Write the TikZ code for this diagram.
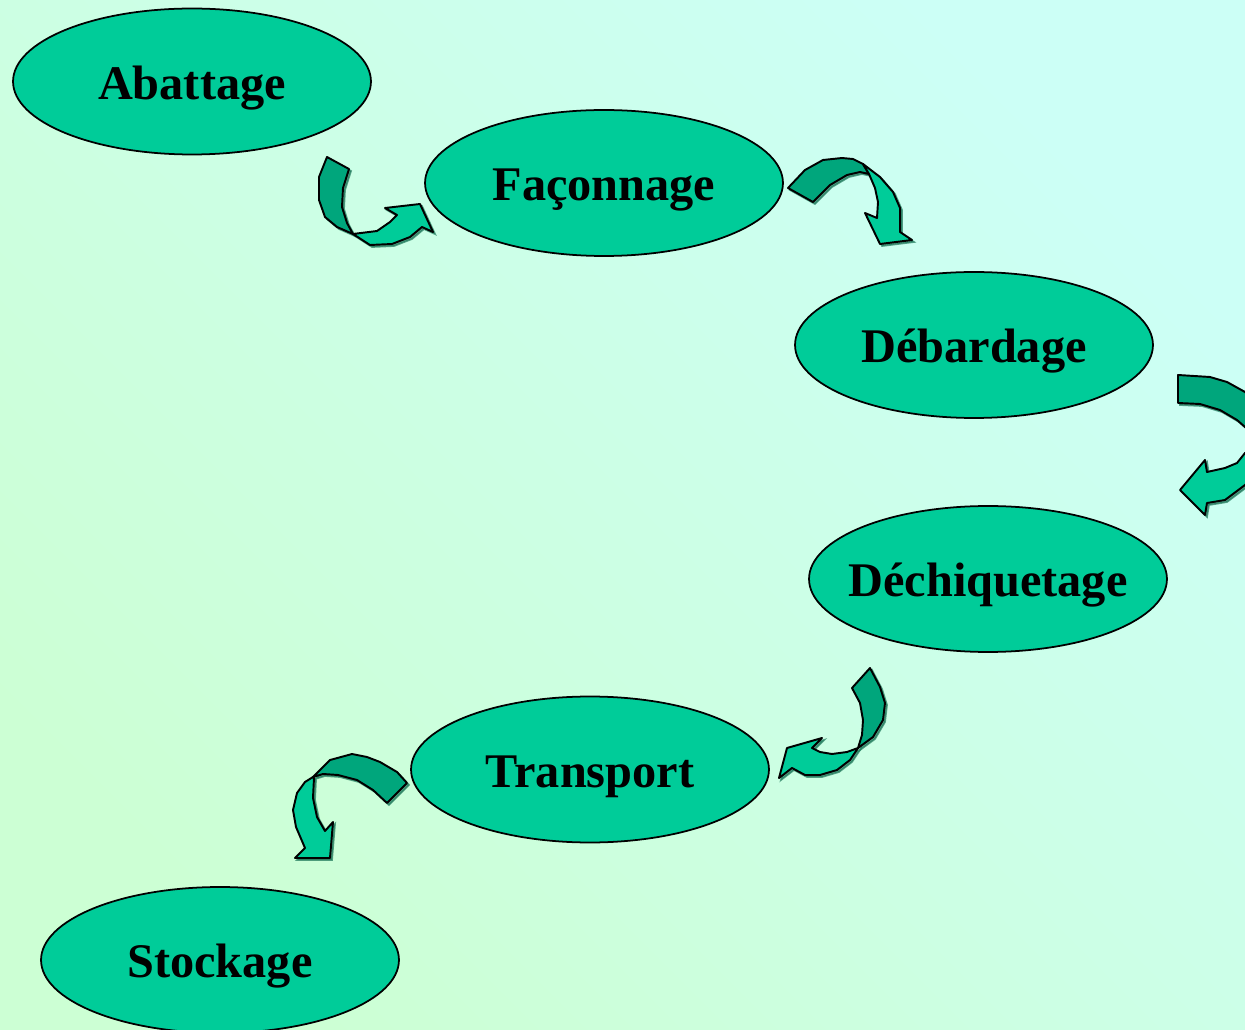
\documentclass[tikz,border=0pt]{standalone}
\usepackage{fontspec}
\setmainfont{Liberation Serif}
\usetikzlibrary{shapes.geometric}
\definecolor{bgA}{RGB}{204,255,246}
\definecolor{bgB}{RGB}{204,255,212}
\definecolor{stagefill}{RGB}{0,204,153}
\definecolor{bandback}{RGB}{0,166,124}
\definecolor{bandshadow}{RGB}{30,120,90}
\newcommand{\stagetext}[1]{\makebox[0pt]{\raisebox{-0.36cm}[0pt][0pt]{#1}}}
\tikzset{
  stage/.style={ellipse, draw=black, line width=1pt, fill=stagefill,
    minimum width=7.16cm, minimum height=2.92cm, inner sep=0pt,
    font=\fontsize{27.5}{30}\selectfont\bfseries},
  backband/.style={fill=bandback, draw=black, line width=1.1pt, line join=round},
  frontband/.style={fill=stagefill, draw=black, line width=1.1pt, line join=round},
  bandshade/.style={fill=bandshadow, draw=bandshadow, line width=1pt, opacity=0.7, shift={(2,2)}}
}
\begin{document}
\begin{tikzpicture}[x=0.02cm, y=-0.02cm]
\useasboundingbox (0,0) rectangle (1245,1030);
\clip (0,0) rectangle (1245,1030);
% background
\shade[top color=bgA, bottom color=bgB, shading angle=-45] (-10,-10) rectangle (1255,1040);

% process stages
\node[stage] (abattage)     at (192,81.5) {\stagetext{Abattage}};
\node[stage] (faconnage)    at (604,183)  {\stagetext{Façonnage}};
\node[stage] (debardage)    at (974,345)  {\stagetext{Débardage}};
\node[stage] (dechiquetage) at (988,579)  {\stagetext{Déchiquetage}};
\node[stage] (transport)    at (590,769.5){\stagetext{Transport}};
\node[stage] (stockage)     at (220,960)  {\stagetext{Stockage}};

% curved block arrow: Abattage -> Façonnage
\def\backA{(327,157) -- (349,169) -- (343,188) -- (342,207) -- (347,223) -- (353,234) -- (337,227) -- (325,217) -- (319,200) -- (319,177) -- cycle}
\def\frontA{(353,234) -- (377,231) -- (390,222) -- (397,215) -- (385,208) -- (420,204) -- (433,232) -- (422,227) -- (410,237) -- (392,244) -- (370,245) -- cycle}
\fill[bandshade] \backA; \fill[bandshade] \frontA;
\path[backband] \backA;
\path[frontband] \frontA;

% curved block arrow: Façonnage -> Débardage
\def\backB{(788,188) -- (805,170) -- (823,160) -- (842,158) -- (853,159) -- (863,164) -- (869,174) -- (860,172) -- (847,175) -- (830,185) -- (813,202) -- cycle}
\def\frontB{(863,164) -- (880,177) -- (893,192) -- (900,208) -- (900,232) -- (912,240) -- (880,244) -- (865,213) -- (877,218) -- (878,202) -- (875,188) -- (869,174) -- cycle}
\fill[bandshade] \backB; \fill[bandshade] \frontB;
\path[backband] \backB;
\path[frontband] \frontB;

% curved block arrow: Débardage -> Déchiquetage
\def\backC{(1178,375) -- (1210,377) -- (1227,382) -- (1245,392) -- (1262,408) -- (1262,440) -- (1245,427) -- (1237,420) -- (1220,410) -- (1200,404) -- (1178,403) -- cycle}
\def\frontC{(1262,445) -- (1245,453) -- (1237,463) -- (1225,468) -- (1207,472) -- (1205,460) -- (1180,490) -- (1205,515) -- (1207,503) -- (1225,500) -- (1245,485) -- (1262,470) -- cycle}
\fill[bandshade] \backC; \fill[bandshade] \frontC;
\path[backband] \backC;
\path[frontband] \frontC;

% curved block arrow: Déchiquetage -> Transport
\def\backD{(870,668) -- (880,687) -- (885,703) -- (883,720) -- (873,737) -- (858,748) -- (862,735) -- (863,720) -- (860,703) -- (852,688) -- cycle}
\def\frontD{(858,748) -- (847,752) -- (832,754) -- (820,752) -- (812,748) -- (822,738) -- (787,748) -- (779,778) -- (792,768) -- (805,775) -- (820,775) -- (837,770) -- (850,760) -- cycle}
\fill[bandshade] \backD; \fill[bandshade] \frontD;
\path[backband] \backD;
\path[frontband] \frontD;

% curved block arrow: Transport -> Stockage
\def\backE{(407,783) -- (397,772) -- (380,762) -- (367,757) -- (352,754) -- (330,760) -- (313,777) -- (323,774) -- (338,775) -- (357,780) -- (373,790) -- (387,803) -- cycle}
\def\frontE{(313,777) -- (305,782) -- (297,793) -- (293,810) -- (296,827) -- (305,848) -- (295,858) -- (330,858) -- (333,822) -- (325,831) -- (317,817) -- (313,798) -- (314,778) -- cycle}
\fill[bandshade] \backE; \fill[bandshade] \frontE;
\path[backband] \backE;
\path[frontband] \frontE;
\end{tikzpicture}
\end{document}
